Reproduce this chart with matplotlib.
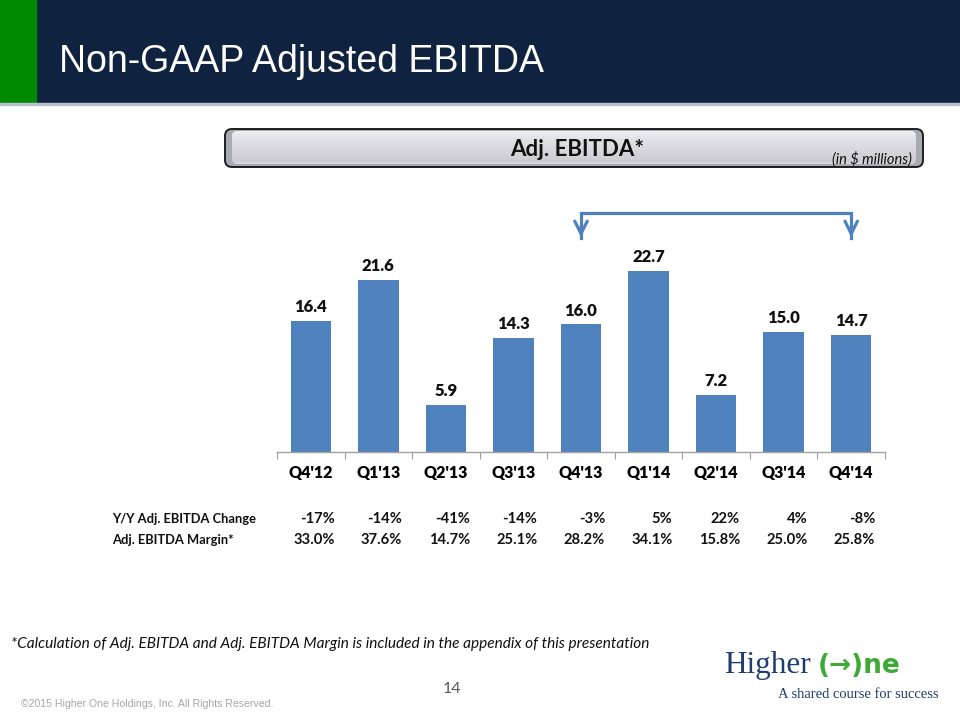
import numpy as np
import matplotlib.pyplot as plt
from matplotlib.patches import Rectangle, FancyBboxPatch

# Datos del gráfico
quarters = ["Q4'12", "Q1'13", "Q2'13", "Q3'13", "Q4'13", "Q1'14", "Q2'14", "Q3'14", "Q4'14"]
adj_ebitda = [16.4, 21.6, 5.9, 14.3, 16.0, 22.7, 7.2, 15.0, 14.7]
yoy_change = ["-17%", "-14%", "-41%", "-14%", "-3%", "5%", "22%", "4%", "-8%"]
ebitda_margin = ["33.0%", "37.6%", "14.7%", "25.1%", "28.2%", "34.1%", "15.8%", "25.0%", "25.8%"]
row_labels = ["Y/Y Adj. EBITDA Change", "Adj. EBITDA Margin*"]
bracket_from, bracket_to = 4, 8  # Q4'13 -> Q4'14

W, H = 960, 720
BAR = '#4F81BD'
NAVY = '#0F223F'
CAL = ['Lato', 'DejaVu Sans']

fig = plt.figure(figsize=(9.6, 7.2), dpi=100, facecolor='white')

# --- Banda de título ---
bg = fig.add_axes([0, 0, 1, 1])
bg.set_axis_off()
bg.add_patch(Rectangle((0, 0), W, 103, color=NAVY, zorder=1))
bg.add_patch(Rectangle((0, 0), 36, 103, color='#008A00', zorder=2))
bg.add_patch(Rectangle((0, 103), W, 2, color='#B8C2CF', zorder=2))
bg.text(59, 62, 'Non-GAAP Adjusted EBITDA', color='white', fontsize=27,
        family='Liberation Sans', va='center', ha='left', zorder=3)

# --- Caja de encabezado con degradado ---
outer = FancyBboxPatch((225, 129), 698, 38, boxstyle='round,pad=0,rounding_size=7',
                       facecolor='#A7A9B3', edgecolor='#1e1e1e', linewidth=1.4, zorder=4)
bg.add_patch(outer)
inner = FancyBboxPatch((232, 131), 684, 33, boxstyle='round,pad=0,rounding_size=5',
                       facecolor='none', edgecolor='none', zorder=5)
bg.add_patch(inner)
grad = np.linspace(0, 1, 100)
cols = np.interp(grad, [0, 0.15, 0.6, 0.92, 1], [0.94, 0.90, 0.84, 0.80, 0.86])
img = np.stack([cols, cols, np.clip(cols + 0.025, 0, 1)], axis=-1)[:, None, :].repeat(2, axis=1)
im = bg.imshow(img, extent=(232, 916, 164, 131), aspect='auto', zorder=5)
im.set_clip_path(inner)
bg.set_xlim(0, W)
bg.set_ylim(H, 0)
bg.text(577, 149, 'Adj. EBITDA*', fontsize=16, fontweight='bold', family=CAL,
        ha='center', va='center', color='#111111', zorder=6)
bg.text(912, 159, '(in $ millions)', fontsize=10.5, style='italic', family=CAL,
        ha='right', va='center', color='#111111', zorder=6)

# --- Gráfico de barras ---
ax = fig.add_axes([277 / W, 1 - 452 / H, (885 - 277) / W, (452 - 197) / H])
ax.patch.set_alpha(0)
x = np.arange(len(quarters))
ax.bar(x, adj_ebitda, width=0.6, color=BAR, zorder=2)
ax.set_xlim(-0.5, len(quarters) - 0.5)
ax.set_ylim(0, 32)
for s in ['top', 'right', 'left']:
    ax.spines[s].set_visible(False)
ax.spines['bottom'].set_color('#A0A0A0')
ax.spines['bottom'].set_linewidth(1)
ax.set_yticks([])
ax.set_xticks(np.arange(-0.5, len(quarters), 1))
ax.set_xticklabels([])
ax.tick_params(axis='x', which='major', length=5, color='#A0A0A0', direction='out')
ax.set_xticks(x, minor=True)
ax.set_xticklabels(quarters, minor=True, fontsize=11.5, fontweight='heavy', family=CAL)
ax.tick_params(axis='x', which='minor', length=0, pad=9)
for xi, v in zip(x, adj_ebitda):
    ax.text(xi, v + 0.75, f'{v:.1f}', ha='center', va='bottom', fontsize=12,
            fontweight='heavy', family=CAL, color='#111111')

# Flecha de corchete
by, tip = 30.0, 26.6
ax.plot([bracket_from, bracket_from, bracket_to, bracket_to], [tip + 0.3, by, by, tip + 0.3],
        color=BAR, lw=2.3, clip_on=False, solid_joinstyle='miter')
for bx in (bracket_from, bracket_to):
    ax.annotate('', xy=(bx, tip), xytext=(bx, tip + 2.0),
                arrowprops=dict(arrowstyle='->,head_width=0.45,head_length=0.9',
                                color=BAR, lw=2.3), annotation_clip=False)

# --- Tabla ---
for row, (label, vals) in enumerate(zip(row_labels, [yoy_change, ebitda_margin])):
    yy = 519 + 21 * row
    bg.text(112, yy, label, fontsize=9.3, fontweight='bold', family=CAL,
            ha='left', va='center', color='#111111')
    for xi, val in zip(x, vals):
        xp = 277 + (xi + 0.5) * (885 - 277) / len(quarters) + 24
        bg.text(xp, yy, val, fontsize=10.6, fontweight='bold', family=CAL,
                ha='right', va='center', color='#111111')

# --- Notas al pie ---
bg.text(11, 644, '*Calculation of Adj. EBITDA and Adj. EBITDA Margin is included in the appendix of this presentation',
        fontsize=11.1, style='italic', family=CAL, ha='left', va='center', color='#111111')
bg.text(452, 689, '14', fontsize=11.5, family=CAL, ha='center', va='center', color='#595959')
bg.text(21, 704, '\u00a92015 Higher One Holdings, Inc. All Rights Reserved.', fontsize=7.6,
        family='Liberation Sans', ha='left', va='center', color='#A6A6A6')

# --- Logotipo ---
bg.text(724, 666, 'Higher', fontsize=22.5, family='Liberation Serif', ha='left', va='center',
        color='#1F3C6E')
bg.text(818, 666, '(\u2192)ne', fontsize=19, fontweight='bold', family='DejaVu Sans',
        ha='left', va='center', color='#3DAA35')
bg.text(938, 694, 'A shared course for success', fontsize=10.5, family='Liberation Serif',
        ha='right', va='center', color='#1F3C6E')

fig.savefig('out.png', dpi=100, facecolor='white')
